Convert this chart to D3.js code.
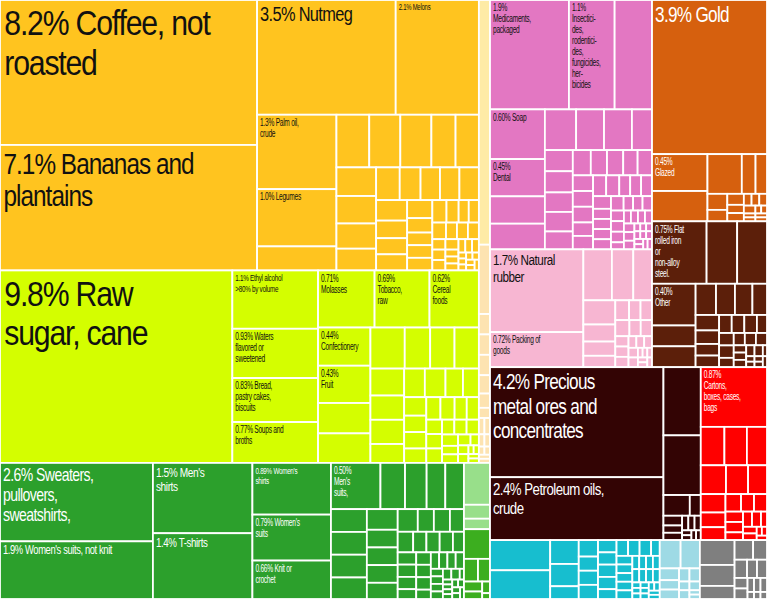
<!DOCTYPE html>
<html><head><meta charset="utf-8">
<script src="https://cdn.jsdelivr.net/npm/d3@7"></script>
<style>
html,body{margin:0;padding:0;background:#fff;overflow:hidden}
svg{display:block}
text{font-family:"Liberation Sans",Arial,sans-serif;}
</style></head><body>
<svg id="chart" width="767" height="599"></svg>
<script>
// ---------- DATA (share of exports, %) ----------
// "|" marks a line break in a label; a leading "|" puts the percentage on its own line
const vegNames   = ["Coffee, not|roasted", "Bananas and|plantains", "Nutmeg", "Melons", "Palm oil,|crude", "Legumes"];
const vegValues  = [8.2, 7.1, 3.5, 2.1, 1.3, 1.0];
const vegOther   = [0.42,0.38,0.36,0.36,0.28,0.27,0.25,0.24,0.22,0.19,0.17,0.15,0.14,0.14,0.14,0.14,0.12,0.11,0.11,0.10,0.08,0.07,0.07,0.07,0.07,0.06,0.05,0.05,0.05,0.04,0.04,0.04,0.03,0.03,0.03,0.03,0.02,0.02,0.02,0.02,0.02,0.02,0.01,0.01,0.01,0.01,0.01,0.01,0.01,0.01];

const foodNames  = ["Raw|sugar, cane", "Ethyl alcohol|>80% by volume", "Waters|flavored or|sweetened", "Bread,|pastry cakes,|biscuits", "Soups and|broths", "|Molasses", "|Tobacco,|raw", "|Cereal|foods", "|Confectionery", "|Fruit"];
const foodValues = [9.84, 1.1, 0.93, 0.83, 0.77, 0.71, 0.69, 0.62, 0.44, 0.43];
const foodOther  = [0.35,0.34,0.31,0.23,0.22,0.22,0.20,0.18,0.18,0.14,0.13,0.13,0.11,0.10,0.09,0.08,0.08,0.07,0.07,0.07,0.06,0.06,0.05,0.05,0.05,0.04,0.04,0.04,0.04,0.03,0.03,0.03,0.02,0.02,0.02,0.01,0.01,0.01,0.01];

const paleValues  = [0.60];
const peachValues = [0.17,0.05,0.05,0.05,0.045,0.035,0.025,0.02,0.02,0.015,0.015,0.01,0.01,0.01,0.01];

const texNames   = ["Sweaters,|pullovers,|sweatshirts,", "Women's suits, not knit", "Men's|shirts", "T-shirts", "Women's|shirts", "Women's|suits", "Knit or|crochet", "|Men's|suits,"];
const texValues  = [2.64, 1.94, 1.54, 1.44, 0.894, 0.794, 0.664, 0.504];
const texOther   = [0.25,0.22,0.19,0.19,0.18,0.18,0.18,0.17,0.14,0.12,0.12,0.12,0.11,0.10,0.08,0.08,0.07,0.07,0.06,0.06,0.06,0.05,0.05,0.05,0.05,0.04,0.04,0.04,0.04,0.03,0.03,0.03,0.03,0.03,0.02,0.02,0.02,0.02,0.02,0.02,0.01,0.01,0.01,0.01,0.01,0.01,0.01,0.01,0.01,0.01];

const lightGreenValues = [0.24, 0.08, 0.06];
const midGreenValues   = [0.17, 0.07, 0.06, 0.04, 0.03, 0.02, 0.01];

const chemNames  = ["|Medicaments,|packaged", "|Insectici-|des,|rodentici-|des,|fungicides,|her-|bicides", "Soap", "|Dental"];
const chemValues = [1.9, 1.1, 0.60, 0.45];
const chemOther  = [0.90,0.33,0.31,0.28,0.25,0.25,0.18,0.13,0.13,0.12,0.12,0.11,0.10,0.09,0.09,0.08,0.08,0.07,0.07,0.07,0.06,0.06,0.06,0.06,0.05,0.05,0.05,0.05,0.04,0.04,0.04,0.04,0.04,0.03,0.03,0.03,0.03,0.03,0.03,0.02,0.02,0.02,0.02,0.02,0.02,0.02,0.02,0.01,0.01,0.01,0.01,0.01,0.01,0.01,0.01,0.01,0.01];

const plasNames  = ["Natural|rubber", "Packing of|goods"];
const plasValues = [1.7, 0.72];
const plasOther  = [0.32,0.24,0.21,0.17,0.12,0.10,0.08,0.06,0.05,0.05,0.05,0.04,0.04,0.03,0.03,0.03,0.02,0.02,0.02,0.02,0.02,0.01,0.01,0.01,0.01,0.01,0.01];

const goldNames  = ["Gold", "|Glazed"];
const goldValues = [3.9, 0.45];
const goldOther  = [0.37,0.30,0.12,0.10,0.07,0.05,0.04,0.03,0.03,0.02,0.02,0.02,0.02,0.01,0.01,0.01,0.01,0.01,0.01];

const metalNames  = ["Flat|rolled iron|or|non-alloy|steel.", "|Other"];
const metalValues = [0.75, 0.40];
const metalOther  = [0.42,0.41,0.20,0.20,0.14,0.13,0.12,0.10,0.08,0.07,0.06,0.06,0.05,0.05,0.05,0.04,0.04,0.04,0.03,0.03,0.03,0.03,0.02,0.02,0.02,0.02,0.02,0.01,0.01,0.01,0.01,0.01,0.01];

const minNames  = ["Precious|metal ores and|concentrates", "Petroleum oils,|crude"];
const minValues = [4.2, 2.4];
const minOther  = [0.56,0.49,0.12,0.05,0.04,0.03,0.03,0.02,0.02,0.02,0.01,0.01,0.01,0.01];

const paperNames  = ["|Cartons,|boxes, cases,|bags"];
const paperValues = [0.87];
const paperOther  = [0.20,0.19,0.17,0.16,0.14,0.12,0.10,0.08,0.07,0.06,0.05,0.05,0.04,0.04,0.03,0.03,0.03,0.02,0.02,0.02,0.01,0.01,0.01];

const machValues = [0.40,0.38,0.15,0.14,0.08,0.07,0.06,0.06,0.06,0.05,0.05,0.05,0.05,0.04,0.04,0.04,0.04,0.03,0.03,0.03,0.03,0.03,0.03,0.02,0.02,0.02,0.02,0.02,0.02,0.02,0.02,0.01,0.01,0.01,0.01,0.01,0.01,0.01,0.01,0.01,0.01];
const elecValues = [0.13,0.12,0.05,0.04,0.04,0.03,0.03,0.02,0.02,0.02,0.01,0.01];
const miscValues = [0.19,0.16,0.10,0.08,0.06,0.05,0.04,0.04,0.03,0.03,0.02,0.02,0.02,0.01,0.01,0.01];

// ---------- STYLE ----------
const catColor = {
  veg:"#ffc41f", food:"#d4fe00", pale:"#feeba6", peach:"#fde3b1", tex:"#2ca02c",
  lgreen:"#98df8a", mgreen:"#3cae1f", chem:"#e377c2", plas:"#f7b6d2", gold:"#d6600e",
  metal:"#5c1f0a", min:"#330404", paper:"#ff0000", mach:"#17becf", elec:"#9edae5", misc:"#7f7f7f"
};
const catRatio = {food: 1.5};
const darkText = new Set(["veg","food","pale","peach","chem","plas","lgreen","elec"]);
const labelSize = {
  "Coffee, not|roasted":36, "Bananas and|plantains":29, "Raw|sugar, cane":36,
  "Precious|metal ores and|concentrates":22, "Gold":22, "Nutmeg":21, "Petroleum oils,|crude":17,
  "Sweaters,|pullovers,|sweatshirts,":18, "Natural|rubber":15, "Men's|shirts":13, "T-shirts":12.5,
  "Women's suits, not knit":12, "Melons":9, "Ethyl alcohol|>80% by volume":9.5, "Women's|shirts":9.5
};
const squeeze = fs => fs >= 25 ? 0.84 : (fs >= 12 ? 0.78 : 0.66);

// ---------- BUILD ----------
function cat(key, names, values, others) {
  const kids = names.map((n, i) => ({name: n, value: values[i], cat: key}))
    .concat(others.map(v => ({name: null, value: v, cat: key})));
  return {isCat: true, key, children: kids};
}
const tree = {split:"cols", children:[
  {split:"rows", children:[
    {split:"cols", children:[
      {split:"rows", children:[cat("veg", vegNames, vegValues, vegOther), cat("food", foodNames, foodValues, foodOther)]},
      {split:"rows", children:[cat("pale", [], [], paleValues), cat("peach", [], [], peachValues)]}
    ]},
    {split:"cols", children:[
      cat("tex", texNames, texValues, texOther),
      {split:"rows", children:[cat("lgreen", [], [], lightGreenValues), cat("mgreen", [], [], midGreenValues)]}
    ]}
  ]},
  {split:"rows", children:[
    {split:"cols", children:[
      {split:"rows", children:[cat("chem", chemNames, chemValues, chemOther), cat("plas", plasNames, plasValues, plasOther)]},
      {split:"rows", children:[cat("gold", goldNames, goldValues, goldOther), cat("metal", metalNames, metalValues, metalOther)]}
    ]},
    {split:"rows", children:[
      {split:"cols", children:[cat("min", minNames, minValues, minOther), cat("paper", paperNames, paperValues, paperOther)]},
      {split:"cols", children:[cat("mach", [], [], machValues), cat("elec", [], [], elecValues), cat("misc", [], [], miscValues)]}
    ]}
  ]}
]};

const W = 767, H = 599;
const root = d3.hierarchy(tree)
  .sum(d => d.children ? 0 : d.value)
  .sort((a, b) => (a.parent && a.parent.data.isCat) ? b.value - a.value : 0);

function tile(node, x0, y0, x1, y1) {
  if (node.data.split === "cols") d3.treemapDice(node, x0, y0, x1, y1);
  else if (node.data.split === "rows") d3.treemapSlice(node, x0, y0, x1, y1);
  else d3.treemapSquarify.ratio(catRatio[node.data.key] || (1 + Math.sqrt(5)) / 2)(node, x0, y0, x1, y1);
}
d3.treemap().size([W, H]).tile(tile).round(false)(root);

const svg = d3.select("#chart");
const leaves = root.leaves();

svg.append("g").selectAll("rect").data(leaves).join("rect")
  .attr("x", d => d.x0).attr("y", d => d.y0)
  .attr("width", d => Math.max(0, d.x1 - d.x0)).attr("height", d => Math.max(0, d.y1 - d.y0))
  .attr("fill", d => catColor[d.data.cat])
  .attr("stroke", "#fff").attr("stroke-width", 1.8);

const fmt = d3.format(".2r");
const lab = svg.append("g").selectAll("text").data(leaves.filter(d => d.data.name)).join("text")
  .attr("fill", d => darkText.has(d.data.cat) ? "#111111" : "#ffffff")
  .style("font-size", d => (labelSize[d.data.name] || 10) + "px")
  .style("letter-spacing", "-0.04em")
  .attr("transform", d => {
    const fs = labelSize[d.data.name] || 10;
    return `translate(${d.x0 + Math.max(3, fs * 0.12)},${d.y0 + fs * 0.92 + 2}) scale(${squeeze(fs)},1)`;
  });
lab.each(function(d) {
  const fs = labelSize[d.data.name] || 10;
  const n = d.data.name;
  const full = fmt(d.data.value) + "%" + (n.startsWith("|") ? "" : " ") + n;
  const lines = full.split("|");
  d3.select(this).selectAll("tspan").data(lines).join("tspan")
    .attr("x", 0).attr("y", (l, i) => i * fs * 1.1).text(l => l);
});
</script>
</body></html>
